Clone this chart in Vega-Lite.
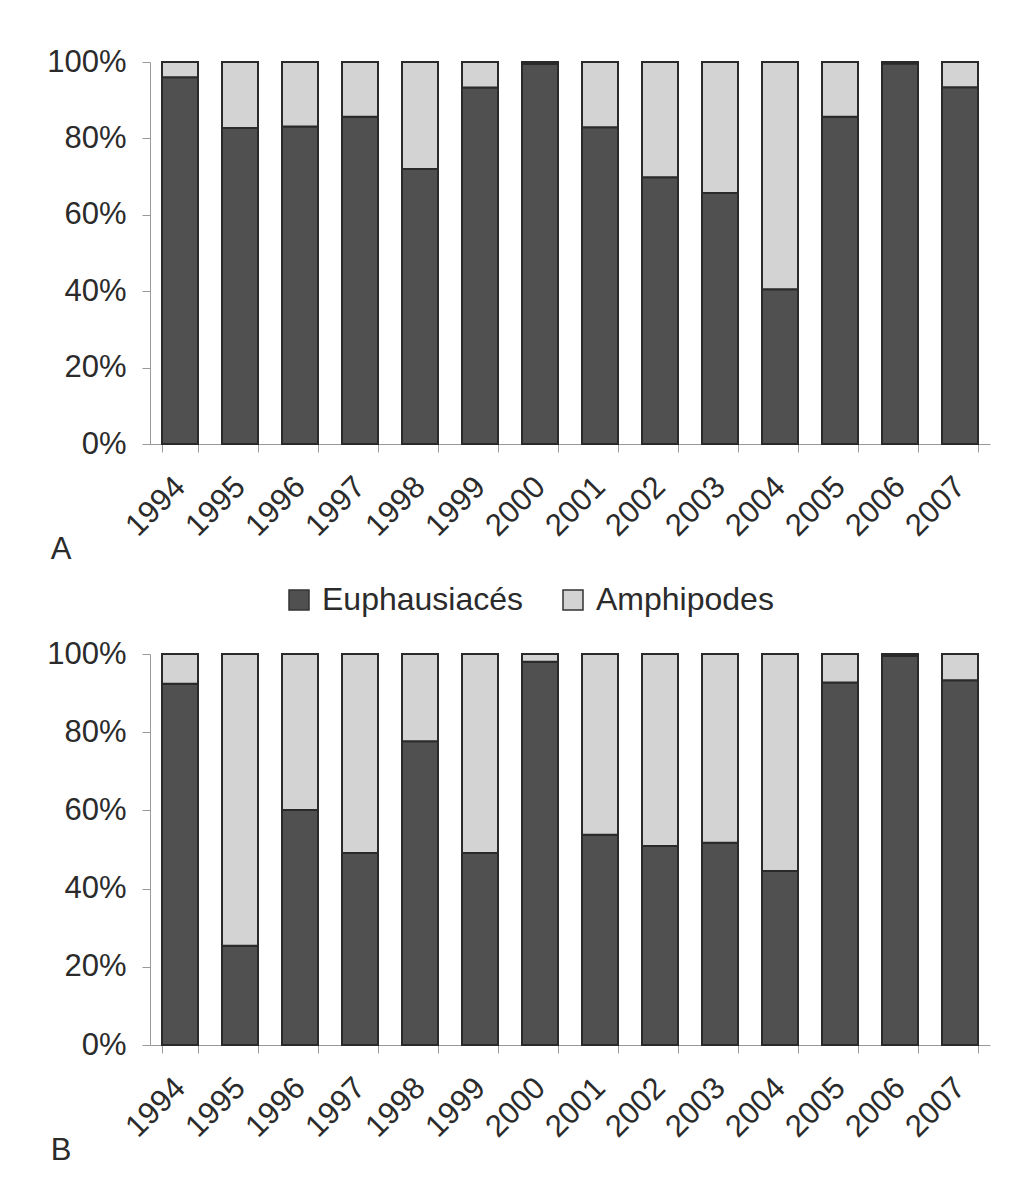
{
  "$schema": "https://vega.github.io/schema/vega-lite/v6.json",
  "padding": {"left": 46, "top": 46, "right": 10, "bottom": 5},
  "background": "white",
  "datasets": {
    "a": [
      {"year": "1994", "group": "Euphausiacés", "value": 96}, {"year": "1994", "group": "Amphipodes", "value": 4},
      {"year": "1995", "group": "Euphausiacés", "value": 82.7}, {"year": "1995", "group": "Amphipodes", "value": 17.3},
      {"year": "1996", "group": "Euphausiacés", "value": 83.1}, {"year": "1996", "group": "Amphipodes", "value": 16.9},
      {"year": "1997", "group": "Euphausiacés", "value": 85.7}, {"year": "1997", "group": "Amphipodes", "value": 14.3},
      {"year": "1998", "group": "Euphausiacés", "value": 72}, {"year": "1998", "group": "Amphipodes", "value": 28},
      {"year": "1999", "group": "Euphausiacés", "value": 93.3}, {"year": "1999", "group": "Amphipodes", "value": 6.7},
      {"year": "2000", "group": "Euphausiacés", "value": 99.5}, {"year": "2000", "group": "Amphipodes", "value": 0.5},
      {"year": "2001", "group": "Euphausiacés", "value": 82.9}, {"year": "2001", "group": "Amphipodes", "value": 17.1},
      {"year": "2002", "group": "Euphausiacés", "value": 69.8}, {"year": "2002", "group": "Amphipodes", "value": 30.2},
      {"year": "2003", "group": "Euphausiacés", "value": 65.7}, {"year": "2003", "group": "Amphipodes", "value": 34.3},
      {"year": "2004", "group": "Euphausiacés", "value": 40.5}, {"year": "2004", "group": "Amphipodes", "value": 59.5},
      {"year": "2005", "group": "Euphausiacés", "value": 85.7}, {"year": "2005", "group": "Amphipodes", "value": 14.3},
      {"year": "2006", "group": "Euphausiacés", "value": 99.6}, {"year": "2006", "group": "Amphipodes", "value": 0.4},
      {"year": "2007", "group": "Euphausiacés", "value": 93.4}, {"year": "2007", "group": "Amphipodes", "value": 6.6}
    ],
    "b": [
      {"year": "1994", "group": "Euphausiacés", "value": 92.4}, {"year": "1994", "group": "Amphipodes", "value": 7.6},
      {"year": "1995", "group": "Euphausiacés", "value": 25.4}, {"year": "1995", "group": "Amphipodes", "value": 74.6},
      {"year": "1996", "group": "Euphausiacés", "value": 60.1}, {"year": "1996", "group": "Amphipodes", "value": 39.9},
      {"year": "1997", "group": "Euphausiacés", "value": 49.1}, {"year": "1997", "group": "Amphipodes", "value": 50.9},
      {"year": "1998", "group": "Euphausiacés", "value": 77.7}, {"year": "1998", "group": "Amphipodes", "value": 22.3},
      {"year": "1999", "group": "Euphausiacés", "value": 49.1}, {"year": "1999", "group": "Amphipodes", "value": 50.9},
      {"year": "2000", "group": "Euphausiacés", "value": 98}, {"year": "2000", "group": "Amphipodes", "value": 2},
      {"year": "2001", "group": "Euphausiacés", "value": 53.8}, {"year": "2001", "group": "Amphipodes", "value": 46.2},
      {"year": "2002", "group": "Euphausiacés", "value": 50.9}, {"year": "2002", "group": "Amphipodes", "value": 49.1},
      {"year": "2003", "group": "Euphausiacés", "value": 51.7}, {"year": "2003", "group": "Amphipodes", "value": 48.3},
      {"year": "2004", "group": "Euphausiacés", "value": 44.5}, {"year": "2004", "group": "Amphipodes", "value": 55.5},
      {"year": "2005", "group": "Euphausiacés", "value": 92.7}, {"year": "2005", "group": "Amphipodes", "value": 7.3},
      {"year": "2006", "group": "Euphausiacés", "value": 99.5}, {"year": "2006", "group": "Amphipodes", "value": 0.5},
      {"year": "2007", "group": "Euphausiacés", "value": 93.3}, {"year": "2007", "group": "Amphipodes", "value": 6.7}
    ]
  },
  "spacing": 18,
  "resolve": {"legend": {"color": "independent"}},
  "vconcat": [
    {
      "data": {"name": "a"},
      "width": 840,
      "height": 382,
      "title": {"text": "A", "orient": "bottom", "anchor": "start", "frame": "bounds", "offset": -6, "dx": 4},
      "mark": {"type": "bar", "stroke": "#2a2a2a", "strokeWidth": 2},
      "encoding": {
        "x": {"field": "year", "type": "nominal", "scale": {"paddingInner": 0.4, "paddingOuter": 0.2}, "axis": {"title": null, "labelAngle": -45, "labelAlign": "right", "labelBaseline": "middle", "labelPadding": 30}},
        "y": {"field": "value", "type": "quantitative", "stack": "normalize", "axis": {"title": null, "format": ".0%", "values": [0, 0.2, 0.4, 0.6, 0.8, 1]}},
        "color": {"field": "group", "type": "nominal", "scale": {"domain": ["Euphausiacés", "Amphipodes"], "range": ["#505050", "#d3d3d3"]}, "legend": null},
        "order": {"field": "group", "sort": "descending"}
      }
    },
    {
      "data": {"name": "b"},
      "width": 840,
      "height": 391,
      "title": {"text": "B", "orient": "bottom", "anchor": "start", "frame": "bounds", "offset": -6, "dx": 4},
      "mark": {"type": "bar", "stroke": "#2a2a2a", "strokeWidth": 2},
      "encoding": {
        "x": {"field": "year", "type": "nominal", "scale": {"paddingInner": 0.4, "paddingOuter": 0.2}, "axis": {"title": null, "labelAngle": -45, "labelAlign": "right", "labelBaseline": "middle", "labelPadding": 30}},
        "y": {"field": "value", "type": "quantitative", "stack": "normalize", "axis": {"title": null, "format": ".0%", "values": [0, 0.2, 0.4, 0.6, 0.8, 1]}},
        "color": {"field": "group", "type": "nominal", "scale": {"domain": ["Euphausiacés", "Amphipodes"], "range": ["#505050", "#d3d3d3"]}, "legend": {"title": null, "orient": "none", "legendX": 133, "legendY": -70, "direction": "horizontal"}},
        "order": {"field": "group", "sort": "descending"}
      }
    }
  ],
  "config": {
    "font": "Liberation Sans",
    "view": {"stroke": null},
    "axis": {"labelFont": "Liberation Sans", "labelFontSize": 31, "labelColor": "#2b2b2b", "domainColor": "#999999", "tickColor": "#999999", "grid": false, "tickSize": 8},
    "axisX": {"tickBand": "extent"},
    "axisY": {"labelPadding": 16},
    "title": {"font": "Liberation Sans", "fontSize": 31, "fontWeight": "normal", "color": "#2b2b2b"},
    "legend": {"labelFont": "Liberation Sans", "labelFontSize": 32, "labelColor": "#2b2b2b", "labelLimit": 0, "symbolType": "square", "symbolSize": 400, "symbolStrokeColor": "#333333", "symbolStrokeWidth": 1.5, "labelOffset": 7, "columnPadding": 33, "padding": 0}
  }
}
